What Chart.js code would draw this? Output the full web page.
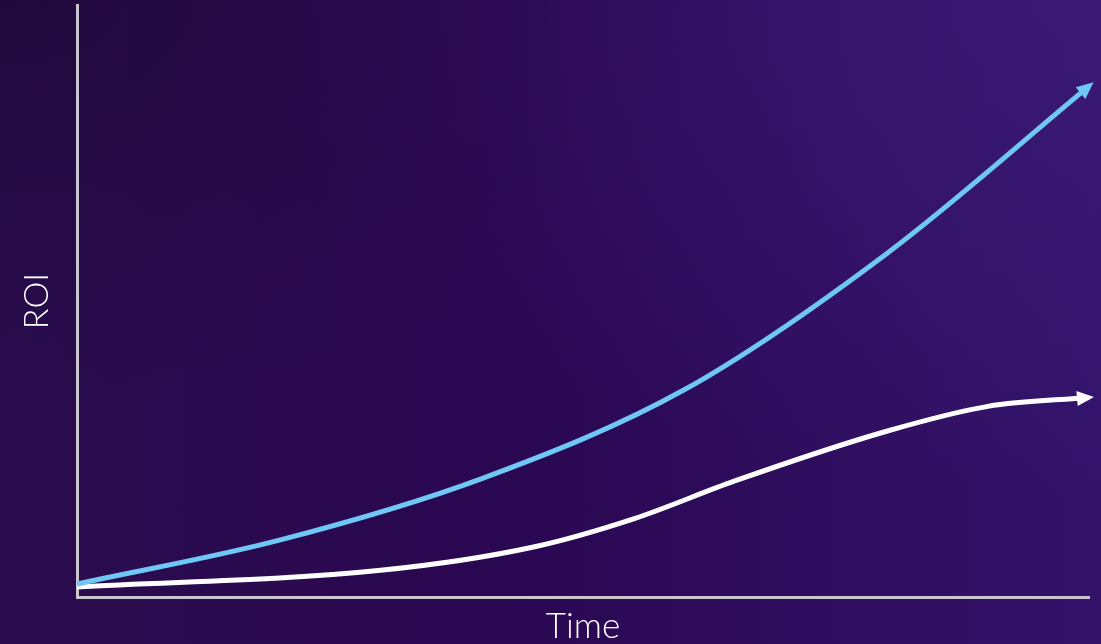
<!DOCTYPE html>
<html lang="en">
<head>
    <meta charset="UTF-8">
    <title>ROI over time</title>
    <script src="https://cdn.jsdelivr.net/npm/chart.js"></script>
    <style>
        html, body { margin: 0; padding: 0; }
        body {
            width: 1101px;
            height: 644px;
            overflow: hidden;
            background-color: #2b0c52;
            background-image:
                radial-gradient(ellipse at 100% 0%, rgba(66, 32, 128, 0.5), rgba(66, 32, 128, 0) 55%),
                radial-gradient(ellipse at 0% 0%, rgba(24, 6, 44, 0.5), rgba(24, 6, 44, 0) 45%),
                linear-gradient(to right, #2a0d4e 0%, #2a0751 45%, #33136a 100%);
        }
        #box { position: relative; width: 1101px; height: 644px; }
    </style>
</head>
<body>
    <div id="box"><canvas id="roi"></canvas></div>

    <script>
        // time (0-100) and ROI (0-100)
        const blueTime = [0, 20, 40, 60, 80, 100];
        const blueRoi  = [2.2, 9.6, 20.0, 35.0, 58.0, 86.3];

        const whiteTime = [0, 30, 45, 55, 65, 80, 90, 100];
        const whiteRoi  = [1.7, 4.5, 8.4, 13.2, 19.6, 28.0, 32.2, 33.7];

        const xTitle = 'Time';
        const yTitle = 'ROI';

        function pts(xs, ys) {
            return xs.map((x, i) => ({x: x, y: ys[i]}));
        }

        // arrow head at the end of each line
        const arrows = {
            id: 'arrows',
            afterDatasetsDraw(chart) {
                const ctx = chart.ctx;
                chart.data.datasets.forEach((ds, i) => {
                    const p = chart.getDatasetMeta(i).data;
                    const b = p[p.length - 1];
                    // direction taken from the curve's own end control point
                    const a = {x: b.cp1x, y: b.cp1y};
                    const ang = Math.atan2(b.y - a.y, b.x - a.x);
                    const len = 17, half = 7.5;
                    const tx = b.x + Math.cos(ang) * ds.arrowOut;
                    const ty = b.y + Math.sin(ang) * ds.arrowOut;
                    const bx = tx - Math.cos(ang) * len;
                    const by = ty - Math.sin(ang) * len;
                    ctx.save();
                    ctx.fillStyle = ds.borderColor;
                    ctx.beginPath();
                    ctx.moveTo(tx, ty);
                    ctx.lineTo(bx + Math.sin(ang) * half, by - Math.cos(ang) * half);
                    ctx.lineTo(bx - Math.sin(ang) * half, by + Math.cos(ang) * half);
                    ctx.closePath();
                    ctx.fill();
                    ctx.restore();
                });
            }
        };

        const axisColor = '#c9c6cf';

        new Chart(document.getElementById('roi').getContext('2d'), {
            type: 'line',
            data: {
                datasets: [{
                    data: pts(blueTime, blueRoi),
                    borderColor: '#6ec7f5',
                    borderWidth: 5,
                    pointRadius: 0,
                    cubicInterpolationMode: 'monotone',
                    clip: false,
                    arrowOut: 6
                }, {
                    data: pts(whiteTime, whiteRoi),
                    borderColor: '#ffffff',
                    borderWidth: 5,
                    pointRadius: 0,
                    cubicInterpolationMode: 'monotone',
                    clip: false,
                    arrowOut: 5
                }]
            },
            options: {
                responsive: true,
                maintainAspectRatio: false,
                animation: false,
                layout: { padding: { top: 5, right: 12, bottom: 0, left: 0 } },
                plugins: { legend: { display: false }, tooltip: { enabled: false } },
                scales: {
                    x: {
                        type: 'linear',
                        min: 0,
                        max: 100,
                        grid: { display: false },
                        border: { color: axisColor, width: 3 },
                        ticks: { display: false },
                        title: {
                            display: true,
                            text: xTitle,
                            color: '#ffffff',
                            font: { family: 'Lato', size: 35, weight: 300, lineHeight: 1 },
                            padding: { top: 0, bottom: 0 }
                        },
                        afterFit(scale) { scale.height = 47; }
                    },
                    y: {
                        min: 0,
                        max: 100,
                        grid: { display: false },
                        border: { color: axisColor, width: 3 },
                        ticks: { display: false },
                        title: {
                            display: true,
                            text: yTitle,
                            color: '#ffffff',
                            font: { family: 'Lato', size: 34, weight: 300, lineHeight: 1 },
                            padding: { top: 20, bottom: 0 }
                        },
                        afterFit(scale) { scale.width = 77; }
                    }
                }
            },
            plugins: [arrows]
        });
    </script>
</body>
</html>
